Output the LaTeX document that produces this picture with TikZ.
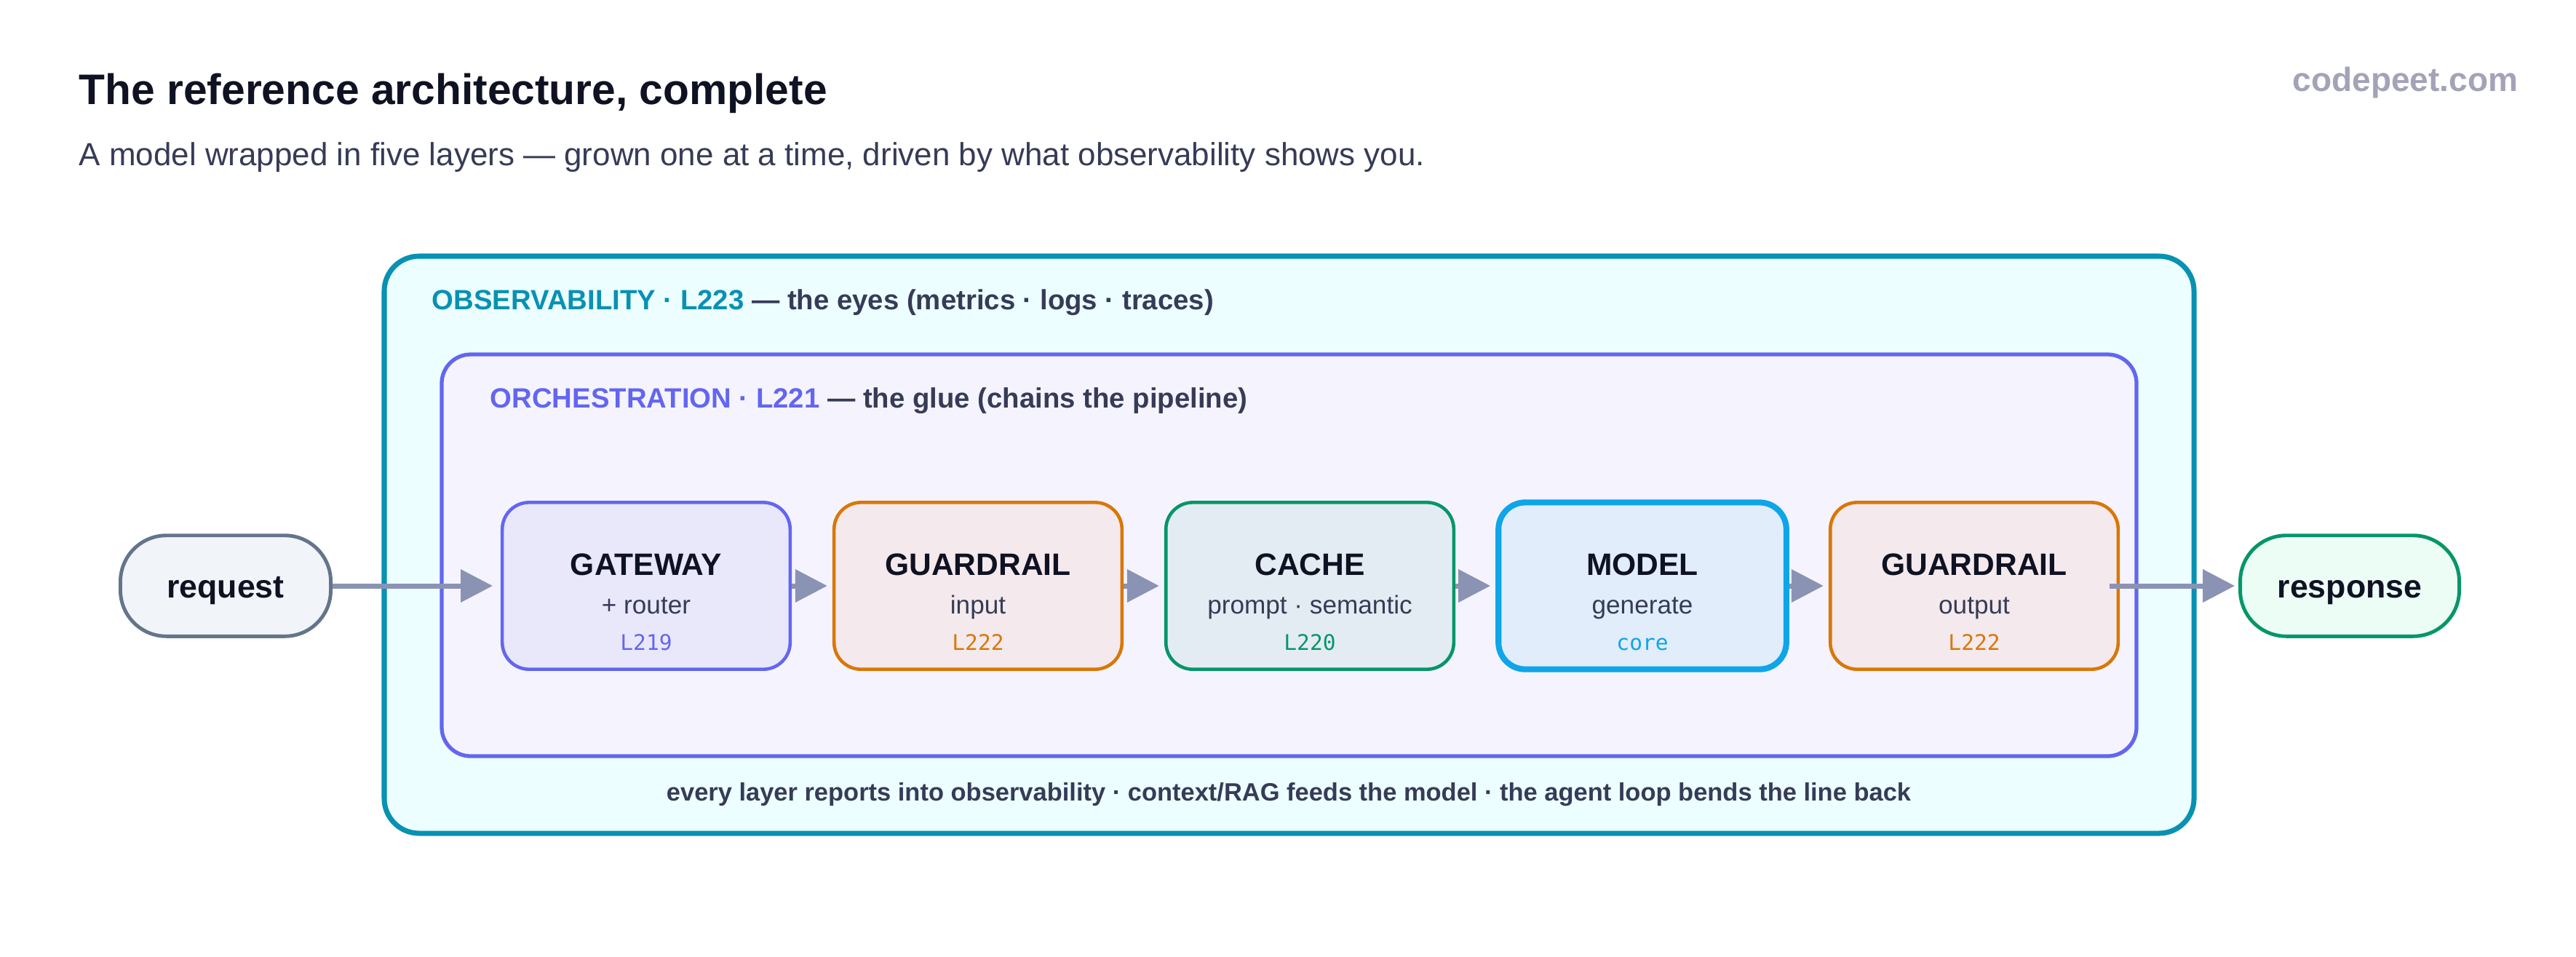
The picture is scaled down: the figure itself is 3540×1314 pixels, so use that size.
\documentclass[tikz,border=0pt]{standalone}
\usepackage{fontspec}
\setmainfont{Liberation Sans}
\setmonofont{DejaVu Sans Mono}
\usetikzlibrary{arrows.meta,positioning}
\definecolor{ink}{HTML}{0F1222}
\definecolor{slate}{HTML}{363B57}
\definecolor{muted}{HTML}{A3A3B8}
\definecolor{obs}{HTML}{0891B2}
\definecolor{obsbg}{HTML}{ECFEFF}
\definecolor{orch}{HTML}{6366F1}
\definecolor{orchbg}{HTML}{F5F4FE}
\definecolor{gwbg}{HTML}{E9E8FB}
\definecolor{amber}{HTML}{D97706}
\definecolor{grbg}{HTML}{F4E9EC}
\definecolor{emer}{HTML}{059669}
\definecolor{cachebg}{HTML}{E4ECF3}
\definecolor{sky}{HTML}{0EA5E9}
\definecolor{modelbg}{HTML}{E1EDFB}
\definecolor{reqline}{HTML}{64748B}
\definecolor{reqbg}{HTML}{F1F5F9}
\definecolor{resbg}{HTML}{ECFDF5}
\definecolor{flowc}{HTML}{8B93B4}

\begin{document}
\begin{tikzpicture}[x=0.01cm,y=-0.01cm,
    stage/.style={draw,rounded corners=10.5pt,line width=1.3pt,minimum width=112.5pt,minimum height=65.2pt,inner sep=0pt},
    terminal/.style={draw,rounded corners=18pt,line width=1.4pt,minimum height=39.4pt,inner sep=0pt,text height=9.6pt,text depth=0pt,text=ink,font=\bfseries\fontsize{12.7}{15}\selectfont},
    boxhead/.style={anchor=base,inner sep=0pt,text=ink,font=\bfseries\fontsize{12.1}{14}\selectfont},
    boxsub/.style={anchor=base,inner sep=0pt,text=slate,font=\fontsize{10}{12}\selectfont},
    boxtag/.style={anchor=base,inner sep=0pt,font=\ttfamily\fontsize{8.4}{10}\selectfont},
    layer/.style={anchor=base west,inner sep=0pt,text=slate,font=\bfseries\fontsize{10.9}{13}\selectfont},
    flowarrow/.style={draw=flowc,line width=2pt,-{Triangle[length=12.5pt,width=12.5pt]}}]
  \fill[white] (0,0) rectangle (3540,1314);
  \useasboundingbox (0,0) rectangle (3540,1314);

  % heading
  \node[anchor=base west,inner sep=0pt,text=ink,font=\bfseries\fontsize{16.7}{20}\selectfont] (title) at (108,143) {The reference architecture, complete};
  \node[anchor=base west,inner sep=0pt,text=slate,font=\fontsize{12.5}{15}\selectfont] (subtitle) at (108,227) {A model wrapped in five layers — grown one at a time, driven by what observability shows you.};
  \node[anchor=base east,inner sep=0pt,text=muted,font=\bfseries\fontsize{13.1}{16}\selectfont] (brand) at (3461,125) {codepeet.com};

  % the two wrapping layers
  \draw[fill=obsbg,draw=obs,line width=2pt,rounded corners=13.6pt] (528,352) rectangle (3015,1145);
  \draw[fill=orchbg,draw=orch,line width=1.5pt,rounded corners=11.3pt] (607,487) rectangle (2936,1039);
  \node[layer] (obsT) at (593,425) {\textcolor{obs}{OBSERVABILITY · L223} — the eyes (metrics · logs · traces)};
  \node[layer] (orchT) at (673,560) {\textcolor{orch}{ORCHESTRATION · L221} — the glue (chains the pipeline)};

  % pipeline stages
  \node[stage,draw=orch,fill=gwbg] (gw) at (888,805) {};
  \node[boxhead] (gwT) at (888,790) {GATEWAY};
  \node[boxsub] (gwS) at (888,843) {+ router};
  \node[boxtag,text=orch] (gwC) at (888,893) {L219};

  \node[stage,draw=amber,fill=grbg] (grin) at (1344,805) {};
  \node[boxhead] (grinT) at (1344,790) {GUARDRAIL};
  \node[boxsub] (grinS) at (1344,843) {input};
  \node[boxtag,text=amber] (grinC) at (1344,893) {L222};

  \node[stage,draw=emer,fill=cachebg] (cache) at (1800,805) {};
  \node[boxhead] (cacheT) at (1800,790) {CACHE};
  \node[boxsub] (cacheS) at (1800,843) {prompt · semantic};
  \node[boxtag,text=emer] (cacheC) at (1800,893) {L220};

  \node[stage,draw=sky,fill=modelbg,line width=2.3pt] (model) at (2257,805) {};
  \node[boxhead] (modelT) at (2257,790) {MODEL};
  \node[boxsub] (modelS) at (2257,843) {generate};
  \node[boxtag,text=sky] (modelC) at (2257,893) {core};

  \node[stage,draw=amber,fill=grbg] (grout) at (2713,805) {};
  \node[boxhead] (groutT) at (2713,790) {GUARDRAIL};
  \node[boxsub] (groutS) at (2713,843) {output};
  \node[boxtag,text=amber] (groutC) at (2713,893) {L222};

  % ends of the line
  \node[terminal,draw=reqline,fill=reqbg,minimum width=82.2pt] (req) at (310,805) {request};
  \node[terminal,draw=emer,fill=resbg,minimum width=85.6pt] (res) at (3229,805) {response};

  \node[anchor=base,inner sep=0pt,text=slate,font=\bfseries\fontsize{9.8}{12}\selectfont] (foot) at (1771,1100) {every layer reports into observability · context/RAG feeds the model · the agent loop bends the line back};

  % flow
  \draw[flowarrow,shorten >=3.1pt] (req) -- (gw);
  \draw[flowarrow,shorten >=2pt] (gw) -- (grin);
  \draw[flowarrow,shorten >=2pt] (grin) -- (cache);
  \draw[flowarrow,shorten >=2pt] (cache) -- (model);
  \draw[flowarrow,shorten >=2pt] (model) -- (grout);
  \draw[flowarrow,shorten >=1.4pt,shorten <=-4pt] (grout) -- (res);
\end{tikzpicture}
\end{document}
